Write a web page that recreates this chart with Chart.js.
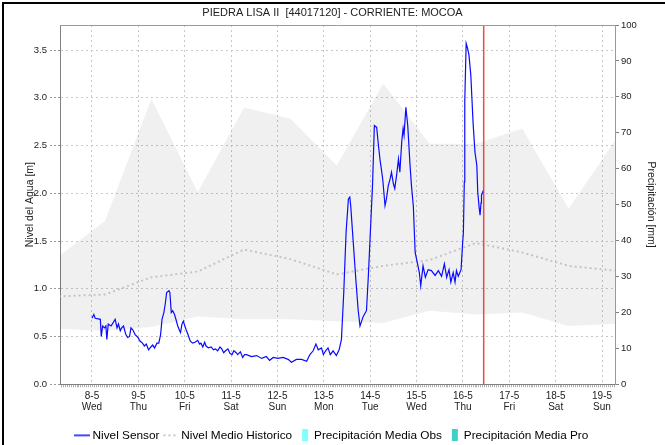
<!DOCTYPE html>
<html>
<head>
<meta charset="utf-8">
<title>Piedra Lisa II</title>
<script src="https://cdn.jsdelivr.net/npm/chart.js@4"></script>
<style>
  html, body { margin: 0; padding: 0; background: #fff; overflow: hidden; }
  #wrap { position: relative; width: 665px; height: 445px; }
  #borde { position: absolute; left: 2px; top: 2px; right: 0; bottom: 0;
           border-left: 2px solid #000; border-top: 2px solid #000; pointer-events: none; }
</style>
</head>
<body>
<div id="wrap">
  <canvas id="myChart"></canvas>
  <div id="borde"></div>
</div>
<script>
// tiempo en días de mayo (8.5 = 8-5 a las 12:00), nivel en metros
const tiempoSensor = [
  8.00, 8.04, 8.07, 8.18, 8.20, 8.23, 8.27, 8.30, 8.32, 8.35, 8.41, 8.45, 8.50, 8.54, 8.57, 8.61,
  8.64, 8.68, 8.73, 8.77, 8.81, 8.84, 8.88, 8.93, 8.99, 9.04, 9.09, 9.13, 9.17, 9.22, 9.27, 9.31,
  9.35, 9.40, 9.44, 9.48, 9.51, 9.55, 9.58, 9.61, 9.66, 9.68, 9.71, 9.74, 9.78, 9.81, 9.85, 9.89,
  9.91, 9.94, 9.97, 9.99, 10.03, 10.07, 10.12, 10.17, 10.22, 10.28, 10.32, 10.35, 10.39, 10.43,
  10.46, 10.51, 10.57, 10.62, 10.66, 10.71, 10.76, 10.80, 10.84, 10.88, 10.93, 10.98, 11.02, 11.06,
  11.11, 11.14, 11.20, 11.25, 11.29, 11.33, 11.44, 11.55, 11.66, 11.76, 11.83, 11.91, 12.01, 12.12,
  12.23, 12.30, 12.41, 12.52, 12.63, 12.70, 12.77, 12.83, 12.88, 12.95, 12.99, 13.04, 13.09, 13.14,
  13.20, 13.27, 13.33, 13.38, 13.43, 13.48, 13.53, 13.56, 13.58, 13.63, 13.69, 13.74, 13.78, 13.85,
  13.92, 13.96, 14.01, 14.05, 14.09, 14.14, 14.17, 14.21, 14.27, 14.32, 14.35, 14.39, 14.43, 14.46,
  14.50, 14.53, 14.57, 14.61, 14.64, 14.68, 14.71, 14.73, 14.77, 14.81, 14.86, 14.89, 14.93, 14.97,
  15.00, 15.06, 15.09, 15.14, 15.19, 15.25, 15.32, 15.40, 15.47, 15.54, 15.60, 15.65, 15.70, 15.74,
  15.79, 15.83, 15.86, 15.90, 15.96, 15.99, 16.01, 16.03, 16.04, 16.07, 16.10, 16.13, 16.17, 16.22,
  16.26, 16.30, 16.32, 16.35, 16.37, 16.39, 16.40, 16.44
];
const nivelSensor = [
  0.69, 0.73, 0.69, 0.68, 0.50, 0.61, 0.59, 0.61, 0.47, 0.63, 0.61, 0.64, 0.68, 0.59, 0.63, 0.56,
  0.59, 0.61, 0.52, 0.49, 0.50, 0.59, 0.57, 0.52, 0.49, 0.45, 0.43, 0.40, 0.42, 0.36, 0.39, 0.41,
  0.38, 0.43, 0.43, 0.52, 0.68, 0.75, 0.84, 0.96, 0.98, 0.96, 0.75, 0.77, 0.73, 0.68, 0.61, 0.56,
  0.54, 0.63, 0.66, 0.63, 0.57, 0.52, 0.45, 0.43, 0.44, 0.46, 0.42, 0.43, 0.39, 0.44,
  0.40, 0.38, 0.39, 0.36, 0.37, 0.35, 0.39, 0.37, 0.33, 0.35, 0.37, 0.32, 0.31, 0.35,
  0.33, 0.31, 0.34, 0.28, 0.31, 0.31, 0.29, 0.30, 0.27, 0.29, 0.25, 0.28, 0.27, 0.28,
  0.26, 0.23, 0.26, 0.26, 0.24, 0.31, 0.35, 0.42, 0.36, 0.38, 0.31, 0.35, 0.38, 0.31,
  0.35, 0.30, 0.36, 0.47, 0.96, 1.59, 1.94, 1.96, 1.87, 1.52, 1.10, 0.78, 0.61, 0.71,
  0.77, 1.13, 1.66, 2.08, 2.71, 2.69, 2.54, 2.36, 2.15, 1.87, 1.94, 2.08, 2.15, 2.22,
  2.10, 2.05, 2.19, 2.36, 2.22, 2.54, 2.68, 2.61, 2.90, 2.71, 2.29, 2.08, 1.87, 1.38,
  1.31, 1.17, 1.03, 1.24, 1.12, 1.20, 1.19, 1.14, 1.19, 1.13, 1.26, 1.12, 1.20, 1.07,
  1.17, 1.07, 1.19, 1.13, 1.20, 1.45, 1.59, 2.12, 2.97, 3.57, 3.52, 3.45, 3.24, 2.73,
  2.43, 2.29, 2.01, 1.85, 1.77, 1.90, 1.98, 2.03
];

// valores históricos diarios
const diasHistorico = [7.28, 8.28, 9.28, 10.28, 11.28, 12.28, 13.28, 14.28, 15.28, 16.28, 17.28, 18.28, 19.28];
const nivelMedio = [0.92, 0.94, 1.12, 1.18, 1.41, 1.31, 1.15, 1.24, 1.30, 1.48, 1.38, 1.24, 1.19];
const nivelMaximo = [1.34, 1.71, 2.99, 2.01, 2.90, 2.78, 2.29, 3.15, 2.52, 2.52, 2.68, 1.84, 2.55];
const nivelMinimo = [0.58, 0.56, 0.60, 0.71, 0.68, 0.68, 0.66, 0.64, 0.77, 0.73, 0.75, 0.61, 0.63];

// precipitación media (sin datos en el periodo)
const precipObs = [];
const precipPro = [];

const ahora = 16.448;

const diasTicks = [8, 9, 10, 11, 12, 13, 14, 15, 16, 17, 18, 19];
const etiquetasFecha = ['8-5', '9-5', '10-5', '11-5', '12-5', '13-5', '14-5', '15-5', '16-5', '17-5', '18-5', '19-5'];
const etiquetasDia = ['Wed', 'Thu', 'Fri', 'Sat', 'Sun', 'Mon', 'Tue', 'Wed', 'Thu', 'Fri', 'Sat', 'Sun'];
const ticksNivel = [0, 0.5, 1, 1.5, 2, 2.5, 3, 3.5];

const puntos = (xs, ys) => xs.map((x, i) => ({x: x, y: ys[i]}));

function simbolo(tipo, color) {
    const c = document.createElement('canvas');
    c.width = 16; c.height = 12;
    const g = c.getContext('2d');
    g.fillStyle = color;
    g.strokeStyle = color;
    if (tipo === 'linea') {
        g.lineWidth = 1.5;
        g.beginPath(); g.moveTo(0, 6); g.lineTo(16, 6); g.stroke();
    } else if (tipo === 'puntos') {
        for (let x = 1; x < 16; x += 5) g.fillRect(x, 5, 2, 2);
    } else {
        g.fillRect(7, 0, 6, 12);
    }
    return c;
}

const marco = {
    id: 'marco',
    afterDatasetsDraw(chart) {
        const {ctx, chartArea: a, scales: {x}} = chart;
        const px = x.getPixelForValue(ahora);
        ctx.save();
        ctx.strokeStyle = 'rgba(240, 40, 40, 0.85)';
        ctx.lineWidth = 1.5;
        ctx.beginPath(); ctx.moveTo(px, a.top); ctx.lineTo(px, a.bottom); ctx.stroke();
        ctx.restore();
    },
    afterDraw(chart) {
        const {ctx, chartArea: a, scales: {x}} = chart;
        ctx.save();
        // borde superior del área
        ctx.strokeStyle = '#999';
        ctx.lineWidth = 1;
        ctx.beginPath();
        ctx.moveTo(a.left, Math.round(a.top) + 0.5); ctx.lineTo(a.right, Math.round(a.top) + 0.5);
        ctx.stroke();
        // marcas horarias bajo el eje
        ctx.strokeStyle = '#aaa';
        ctx.beginPath();
        for (let h = Math.ceil(x.min * 24); h <= x.max * 24; h++) {
            const p = Math.round(x.getPixelForValue(h / 24)) + 0.5;
            ctx.moveTo(p, a.bottom + 1); ctx.lineTo(p, a.bottom + 3);
        }
        ctx.stroke();
        ctx.restore();
    }
};

Chart.defaults.font.family = "'Liberation Sans', Arial, sans-serif";
Chart.defaults.color = '#222';

const ctx = document.getElementById('myChart');

new Chart(ctx, {
    type: 'line',
    data: {
        datasets: [{
            label: 'Nivel Sensor',
            data: puntos(tiempoSensor, nivelSensor),
            borderColor: '#0a0aff',
            borderWidth: 1.2,
            pointRadius: 0,
            yAxisID: 'y'
        }, {
            label: 'Nivel Medio Historico',
            data: puntos(diasHistorico, nivelMedio),
            borderColor: '#c4c4c4',
            borderWidth: 2,
            borderDash: [2, 3],
            pointRadius: 0,
            yAxisID: 'y'
        }, {
            label: 'Precipitación Media Obs',
            type: 'bar',
            data: precipObs,
            backgroundColor: '#80ffff',
            yAxisID: 'yP'
        }, {
            label: 'Precipitación Media Pro',
            type: 'bar',
            data: precipPro,
            backgroundColor: '#40d0c8',
            yAxisID: 'yP'
        }, {
            data: puntos(diasHistorico, nivelMaximo),
            borderWidth: 0,
            pointRadius: 0,
            fill: '+1',
            backgroundColor: 'rgba(0, 0, 0, 0.06)',
            yAxisID: 'y'
        }, {
            data: puntos(diasHistorico, nivelMinimo),
            borderWidth: 0,
            pointRadius: 0,
            fill: false,
            yAxisID: 'y'
        }]
    },
    options: {
        responsive: true,
        maintainAspectRatio: false,
        animation: false,
        layout: {padding: {left: 0, right: 0, top: 0, bottom: -6.25}},
        plugins: {
            title: {
                display: true,
                text: 'PIEDRA LISA II  [44017120] - CORRIENTE: MOCOA',
                color: '#222',
                font: {size: 11, weight: 'normal'},
                padding: {top: 6.2, bottom: 5.6}
            },
            legend: {
                position: 'bottom',
                labels: {
                    usePointStyle: true,
                    pointStyleWidth: 10,
                    padding: 6,
                    color: '#222',
                    font: {size: 11.8},
                    generateLabels: chart => {
                        const simbolos = [
                            simbolo('linea', '#0a0aff'),
                            simbolo('puntos', '#c4c4c4'),
                            simbolo('caja', '#80ffff'),
                            simbolo('caja', '#40d0c8')
                        ];
                        return chart.data.datasets
                            .map((ds, i) => ({
                                text: ds.label,
                                datasetIndex: i,
                                pointStyle: simbolos[i],
                                fillStyle: 'transparent',
                                strokeStyle: 'transparent',
                                lineWidth: 0,
                                hidden: false
                            }))
                            .filter(it => it.text);
                    }
                }
            },
            tooltip: {enabled: false}
        },
        scales: {
            x: {
                type: 'linear',
                min: 7.31,
                max: 19.28,
                offset: false,
                afterBuildTicks: s => { s.ticks = diasTicks.map(v => ({value: v})); },
                afterFit: s => { s.height = 39.25; },
                grid: {color: '#c8c8c8', offset: false, tickLength: 4, tickColor: 'rgba(0,0,0,0)'},
                border: {color: '#808080', dash: [2, 3]},
                ticks: {
                    autoSkip: false,
                    maxRotation: 0,
                    padding: 2.5,
                    color: '#222',
                    font: {size: 10, lineHeight: 1.1},
                    callback: v => {
                        const i = diasTicks.indexOf(v);
                        return i < 0 ? '' : [etiquetasFecha[i], etiquetasDia[i]];
                    }
                }
            },
            y: {
                position: 'left',
                min: 0,
                max: 3.763,
                afterBuildTicks: s => { s.ticks = ticksNivel.map(v => ({value: v})); },
                afterFit: s => { s.width = 60; },
                grid: {color: '#c8c8c8', tickLength: 10, tickColor: '#999', tickBorderDash: [2, 2]},
                border: {color: '#808080', dash: [2, 3]},
                ticks: {
                    padding: 3,
                    color: '#222',
                    font: {size: 9.5},
                    callback: v => v.toFixed(1)
                },
                title: {
                    display: true,
                    text: 'Nivel del Agua [m]',
                    color: '#222',
                    font: {size: 10.5},
                    padding: {top: 23.7, bottom: 0}
                }
            },
            yP: {
                position: 'right',
                min: 0,
                max: 100,
                afterFit: s => { s.width = 50; },
                grid: {drawOnChartArea: false, tickLength: 4, tickColor: '#808080'},
                border: {color: '#999'},
                ticks: {
                    stepSize: 10,
                    padding: 2,
                    color: '#222',
                    font: {size: 9.5}
                },
                title: {
                    display: true,
                    text: 'Precipitación [mm]',
                    color: '#222',
                    font: {size: 10.5},
                    padding: {top: 7.7, bottom: 0}
                }
            }
        }
    },
    plugins: [marco]
});
</script>
</body>
</html>
